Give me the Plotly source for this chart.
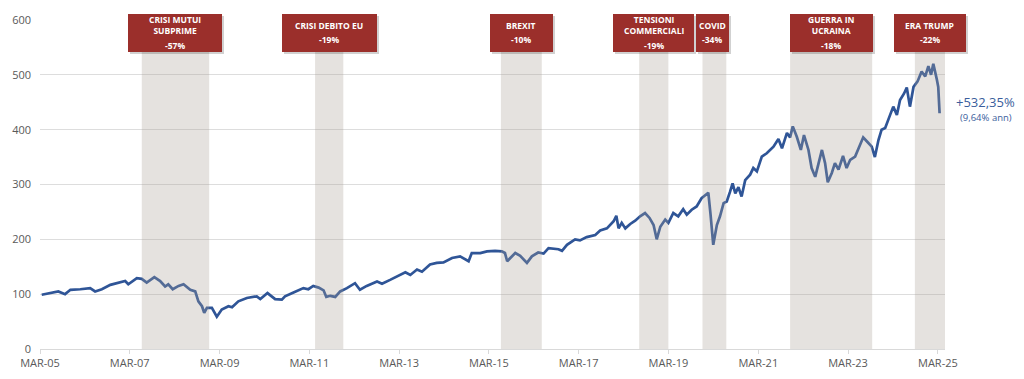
import pandas as pd
import plotly.graph_objects as go

# ---- data (decimal years, index values) ----
t_dec = [2005.20, 2005.39, 2005.57, 2005.72, 2005.84, 2006.06, 2006.28, 2006.39, 2006.54, 2006.73,
         2006.91, 2007.06, 2007.13, 2007.32, 2007.43, 2007.54, 2007.71, 2007.84, 2007.95, 2008.02,
         2008.12, 2008.25, 2008.36, 2008.51, 2008.62, 2008.69, 2008.77, 2008.82, 2008.88, 2008.99,
         2009.10, 2009.21, 2009.36, 2009.44, 2009.58, 2009.77, 2009.99, 2010.07, 2010.23, 2010.40,
         2010.55, 2010.62, 2010.81, 2011.03, 2011.14, 2011.25, 2011.37, 2011.48, 2011.54, 2011.63,
         2011.74, 2011.85, 2012.00, 2012.18, 2012.29, 2012.44, 2012.67, 2012.78, 2012.96, 2013.15,
         2013.30, 2013.41, 2013.56, 2013.67, 2013.85, 2014.00, 2014.15, 2014.34, 2014.52, 2014.71,
         2014.78, 2014.97, 2015.12, 2015.30, 2015.45, 2015.52, 2015.57, 2015.64, 2015.75, 2015.86,
         2016.01, 2016.12, 2016.26, 2016.38, 2016.49, 2016.71, 2016.79, 2016.90, 2017.08, 2017.19,
         2017.34, 2017.53, 2017.64, 2017.79, 2017.94, 2018.00, 2018.05, 2018.12, 2018.20, 2018.31,
         2018.42, 2018.53, 2018.64, 2018.74, 2018.83, 2018.90, 2018.98, 2019.09, 2019.16, 2019.27,
         2019.38, 2019.49, 2019.57, 2019.68, 2019.79, 2019.90, 2020.05, 2020.10, 2020.16, 2020.24,
         2020.31, 2020.39, 2020.46, 2020.53, 2020.59, 2020.65, 2020.72, 2020.79, 2020.87, 2020.98,
         2021.05, 2021.13, 2021.24, 2021.35, 2021.43, 2021.50, 2021.61, 2021.69, 2021.80, 2021.87,
         2021.93, 2022.02, 2022.11, 2022.18, 2022.28, 2022.35, 2022.43, 2022.50, 2022.58, 2022.65,
         2022.71, 2022.80, 2022.87, 2022.95, 2023.05, 2023.13, 2023.21, 2023.32, 2023.43, 2023.50,
         2023.59, 2023.69, 2023.76, 2023.84, 2023.91, 2023.99, 2024.10, 2024.17, 2024.25, 2024.32,
         2024.41, 2024.47, 2024.54, 2024.62, 2024.71, 2024.80, 2024.88, 2024.95, 2025.01, 2025.06,
         2025.14, 2025.17, 2025.20]
values = [99, 102, 105, 100, 108, 109, 111, 105, 109, 117,
          121, 124, 118, 129, 128, 121, 131, 124, 114, 118,
          109, 115, 118, 108, 105, 87, 78, 66, 75, 75,
          59, 72, 78, 76, 87, 93, 96, 91, 102, 91,
          90, 96, 103, 111, 109, 115, 112, 107, 95, 97,
          95, 105, 111, 120, 108, 115, 123, 119, 126, 134,
          140, 135, 145, 141, 154, 157, 158, 166, 169, 160,
          175, 175, 178, 179, 178, 175, 160, 166, 175, 170,
          157, 169, 176, 174, 184, 182, 179, 190, 200, 198,
          204, 208, 216, 220, 233, 243, 220, 230, 220, 228,
          234, 242, 248, 239, 226, 200, 223, 236, 230, 248,
          242, 255, 245, 254, 260, 275, 285, 245, 190, 226,
          242, 266, 269, 286, 302, 284, 295, 278, 308, 318,
          330, 324, 351, 357, 363, 369, 383, 366, 394, 386,
          406, 387, 363, 390, 363, 330, 314, 339, 363, 339,
          304, 321, 339, 327, 352, 330, 345, 351, 372, 386,
          378, 369, 350, 381, 400, 403, 427, 442, 427, 454,
          466, 477, 442, 478, 488, 506, 497, 516, 500, 520,
          491, 478, 430]

event_titles = ["CRISI MUTUI<br>SUBPRIME", "CRISI DEBITO EU", "BREXIT", "TENSIONI<br>COMMERCIALI",
                "COVID", "GUERRA IN<br>UCRAINA", "ERA TRUMP"]
event_pcts = ["-57%", "-19%", "-10%", "-19%", "-34%", "-18%", "-22%"]
event_start = [2007.43, 2011.29, 2015.43, 2018.51, 2019.92, 2021.87, 2024.65]
event_end = [2008.93, 2011.92, 2016.34, 2019.16, 2020.45, 2023.70, 2025.32]

tick_dates = ["2005-03-01", "2007-03-01", "2009-03-01", "2011-03-01", "2013-03-01", "2015-03-01",
              "2017-03-01", "2019-03-01", "2021-03-01", "2023-03-01", "2025-03-01"]
tick_labels = ["MAR-05", "MAR-07", "MAR-09", "MAR-11", "MAR-13", "MAR-15",
               "MAR-17", "MAR-19", "MAR-21", "MAR-23", "MAR-25"]

total_label = "+532,35%"
annual_label = "(9,64% ann)"

# ---- styles ----
box_widths = [94, 95, 63, 81, 33, 83, 72]
box_xshift = [0, 0, 0, 0, -2, 0, 0]
LINE_COLOR = "#2F5597"
BOX_COLOR = "#9B2F2B"
SHADE = "rgba(170,160,150,0.30)"
FONT = "Open Sans"


def dec_to_ts(d):
    y = int(d)
    start = pd.Timestamp(year=y, month=1, day=1)
    end = pd.Timestamp(year=y + 1, month=1, day=1)
    return start + (end - start) * (d - y)


dates = [dec_to_ts(d) for d in t_dec]

fig = go.Figure()
fig.add_trace(go.Scatter(x=dates, y=values, mode="lines",
                         line=dict(color=LINE_COLOR, width=2.7), hoverinfo="skip",
                         showlegend=False))

shapes = []
annotations = []
for i, title in enumerate(event_titles):
    s, e = dec_to_ts(event_start[i]), dec_to_ts(event_end[i])
    mid = s + (e - s) / 2
    shapes.append(dict(type="rect", xref="x", yref="y", x0=s, x1=e, y0=0, y1=560,
                       fillcolor=SHADE, line=dict(width=0), layer="above"))
    # shadow
    annotations.append(dict(x=mid, y=1, xref="x", yref="paper", text=" ", showarrow=False,
                            width=box_widths[i], height=38, bgcolor="rgba(0,0,0,0.18)",
                            borderpad=0, borderwidth=0, xanchor="center", yanchor="middle",
                            xshift=box_xshift[i] + 2, yshift=-14.5))
    annotations.append(dict(x=mid, y=1, xref="x", yref="paper", text=" ", showarrow=False,
                            width=box_widths[i], height=38, bgcolor=BOX_COLOR,
                            borderpad=0, borderwidth=0, xanchor="center", yanchor="middle",
                            xshift=box_xshift[i], yshift=-12.5))
    nlines = title.count("<br>") + 1
    annotations.append(dict(x=mid, y=1, xref="x", yref="paper", text="<b>%s</b>" % title,
                            showarrow=False, font=dict(family=FONT, size=8.5, color="white"),
                            xanchor="center", yanchor="middle", xshift=box_xshift[i], yshift=-5))
    annotations.append(dict(x=mid, y=1, xref="x", yref="paper", text="<b>%s</b>" % event_pcts[i],
                            showarrow=False, font=dict(family=FONT, size=8.5, color="white"),
                            xanchor="center", yanchor="middle", xshift=box_xshift[i],
                            yshift=-25.7 if nlines > 1 else -19.5))

annotations.append(dict(x=1.045, y=0.750, xref="paper", yref="paper", text=total_label,
                        showarrow=False, font=dict(family=FONT, size=13, color="#3B5E9C"),
                        xanchor="center", yanchor="middle"))
annotations.append(dict(x=1.045, y=0.705, xref="paper", yref="paper", text=annual_label,
                        showarrow=False, font=dict(family=FONT, size=9.5, color="#3B5E9C"),
                        xanchor="center", yanchor="middle"))

fig.update_layout(
    width=1024, height=379,
    margin=dict(l=40, r=79, t=20, b=30, autoexpand=False),
    paper_bgcolor="white", plot_bgcolor="white",
    font=dict(family=FONT, size=11, color="#595959"),
    shapes=shapes, annotations=annotations,
    xaxis=dict(type="date", range=[pd.Timestamp("2005-03-01"), pd.Timestamp("2025-04-28")],
               tickvals=[pd.Timestamp(d) for d in tick_dates], ticktext=tick_labels,
               showgrid=False, showline=True, linecolor="#D9D9D9", linewidth=1,
               ticks="outside", ticklen=4, tickcolor="#D9D9D9", zeroline=False,
               automargin=False,
               tickfont=dict(family=FONT, size=11, color="#595959")),
    yaxis=dict(range=[0, 600], dtick=100, tick0=0, showgrid=True, gridcolor="#DDDDDD",
               gridwidth=1, zeroline=False, showline=False, ticks="",
               ticklabelstandoff=8, automargin=False,
               tickfont=dict(family=FONT, size=11, color="#595959")),
)

fig.write_html("out.html", config={"displayModeBar": False},
               post_script="document.body.style.margin='0';document.body.style.overflow='hidden';")
